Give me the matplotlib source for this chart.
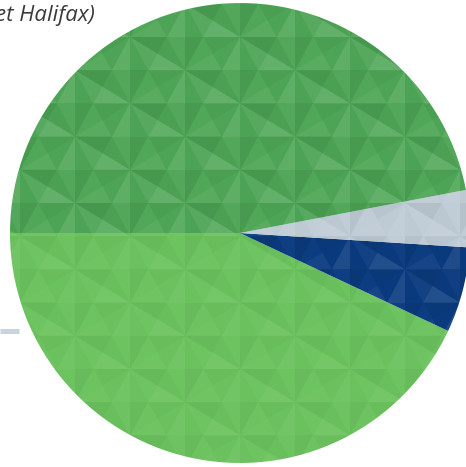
import matplotlib
matplotlib.use("Agg")
import numpy as np
import matplotlib.pyplot as plt
from matplotlib.collections import PolyCollection

# Data (shares)
labels = ["Light green", "Blue", "Grey", "Dark green"]
values = [43, 6, 4, 47]
colors = ["#6cc35e", "#0b3b80", "#c0ccd6", "#4fa657"]
texture_strength = [0.45, 0.8, 0.6, 0.9]

W, H = 466, 467
fig = plt.figure(figsize=(W / 100, H / 100), dpi=100)
ax = fig.add_axes([0, 0, 1, 1])
ax.axis("off")

CX, CY, R = 240, H - 233, 230
wedges, _ = ax.pie(values, colors=colors, startangle=180, counterclock=True,
                   center=(CX, CY), radius=R, wedgeprops=dict(linewidth=0))
ax.set_xlim(0, W)
ax.set_ylim(0, H)
ax.set_aspect("equal")

# Decorative faceted texture (triangular lattice), clipped to each wedge
dx, dy = 55.0, 66.4
x0, y0 = 130.0, H - 37.0
pts = {}
for i in range(-6, 10):
    for j in range(-3, 14):
        pts[(i, j)] = (x0 + i * dx, y0 - j * dy - (i % 2) * dy / 2)
polys, shades = [], []
def add_tri(a, b, c):
    A, B, C = map(np.array, (a, b, c))
    g = (A + B + C) / 3
    for P, Q in ((A, B), (B, C), (C, A)):
        M = (P + Q) / 2
        n = M - g
        th = np.arctan2(n[1], n[0])
        for k, V in enumerate((P, Q)):
            s = 0.09 * np.cos(th - np.pi / 4) + (0.04 if k == 0 else -0.04)
            polys.append([tuple(g), tuple(M), tuple(V)])
            shades.append(s)
for i in range(-6, 8):
    for j in range(-3, 10):
        a, b = pts[(i, j)], pts[(i, j + 1)]
        if i % 2 == 0:
            add_tri(a, b, pts[(i + 1, j)])
            add_tri(b, pts[(i + 1, j)], pts[(i + 1, j + 1)])
        else:
            add_tri(a, b, pts[(i + 1, j + 1)])
            add_tri(b, pts[(i + 1, j + 1)], pts[(i + 1, j + 2)])
shades = np.array(shades)
for w, k in zip(wedges, texture_strength):
    fcs = []
    for s in shades:
        if s >= 0:
            fcs.append((1, 1, 1, min(s * k, 0.2)))
        else:
            fcs.append((0, 0.12, 0.05, min(-s * k * 0.9, 0.2)))
    pc = PolyCollection(polys, facecolors=fcs, edgecolors="none")
    ax.add_collection(pc)
    pc.set_clip_path(w)

# Cropped title text (top-left), cut at the edge as in the source
ax.text(95, H - 21, "et Halifax)", ha="right", va="baseline",
        fontsize=16, style="italic", fontweight="normal", color="#3a3a3a",
        family="Open Sans")

# Decorative grey rule on the left
ax.plot([0, 19], [H - 330.5, H - 330.5], color="#c8d3dc", lw=3.6,
        solid_capstyle="butt")

ax.set_xlim(0, W)
ax.set_ylim(0, H)
fig.savefig("out.png", dpi=100)
